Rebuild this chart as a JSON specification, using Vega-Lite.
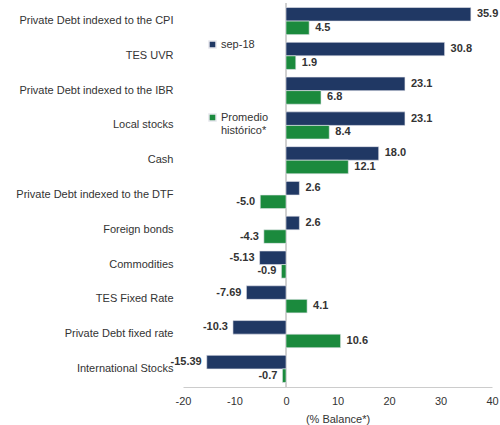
{
  "$schema": "https://vega.github.io/schema/vega-lite/v6.json",
  "autosize": "none",
  "width": 309,
  "height": 384,
  "padding": {"left": 183, "top": 3, "right": 8, "bottom": 38},
  "background": "white",
  "config": {"view": {"stroke": null}, "font": "Liberation Sans"},
  "data": {"values": [
    {"cat": "Private Debt indexed to the CPI", "series": "sep-18", "value": 35.9, "label": "35.9"},
    {"cat": "Private Debt indexed to the CPI", "series": "Promedio histórico*", "value": 4.5, "label": "4.5"},
    {"cat": "TES UVR", "series": "sep-18", "value": 30.8, "label": "30.8"},
    {"cat": "TES UVR", "series": "Promedio histórico*", "value": 1.9, "label": "1.9"},
    {"cat": "Private Debt indexed to the IBR", "series": "sep-18", "value": 23.1, "label": "23.1"},
    {"cat": "Private Debt indexed to the IBR", "series": "Promedio histórico*", "value": 6.8, "label": "6.8"},
    {"cat": "Local stocks", "series": "sep-18", "value": 23.1, "label": "23.1"},
    {"cat": "Local stocks", "series": "Promedio histórico*", "value": 8.4, "label": "8.4"},
    {"cat": "Cash", "series": "sep-18", "value": 18.0, "label": "18.0"},
    {"cat": "Cash", "series": "Promedio histórico*", "value": 12.1, "label": "12.1"},
    {"cat": "Private Debt indexed to the DTF", "series": "sep-18", "value": 2.6, "label": "2.6"},
    {"cat": "Private Debt indexed to the DTF", "series": "Promedio histórico*", "value": -5.0, "label": "-5.0"},
    {"cat": "Foreign bonds", "series": "sep-18", "value": 2.6, "label": "2.6"},
    {"cat": "Foreign bonds", "series": "Promedio histórico*", "value": -4.3, "label": "-4.3"},
    {"cat": "Commodities", "series": "sep-18", "value": -5.13, "label": "-5.13"},
    {"cat": "Commodities", "series": "Promedio histórico*", "value": -0.9, "label": "-0.9"},
    {"cat": "TES Fixed Rate", "series": "sep-18", "value": -7.69, "label": "-7.69"},
    {"cat": "TES Fixed Rate", "series": "Promedio histórico*", "value": 4.1, "label": "4.1"},
    {"cat": "Private Debt fixed rate", "series": "sep-18", "value": -10.3, "label": "-10.3"},
    {"cat": "Private Debt fixed rate", "series": "Promedio histórico*", "value": 10.6, "label": "10.6"},
    {"cat": "International Stocks", "series": "sep-18", "value": -15.39, "label": "-15.39"},
    {"cat": "International Stocks", "series": "Promedio histórico*", "value": -0.7, "label": "-0.7"}
  ]},
  "encoding": {
    "y": {"field": "cat", "type": "nominal", "sort": null,
      "scale": {"paddingInner": 0.22, "paddingOuter": 0.13},
      "axis": {"title": null, "domain": false, "ticks": false, "labelFontSize": 11, "labelColor": "#333333", "labelPadding": 10, "labelLimit": 200}},
    "yOffset": {"field": "series", "type": "nominal", "sort": ["sep-18", "Promedio histórico*"]}
  },
  "layer": [
    {
      "mark": {"type": "rule", "color": "#d0d0d0", "strokeWidth": 1},
      "encoding": {"x": {"datum": 0, "type": "quantitative"}, "y": null, "yOffset": null}
    },
    {
      "mark": {"type": "bar", "stroke": "#e8e8ee", "strokeWidth": 0.6},
      "encoding": {
        "x": {"field": "value", "type": "quantitative",
          "scale": {"domain": [-20, 40]},
          "axis": {"values": [-20, -10, 0, 10, 20, 30, 40], "labelExpr": "datum.value + ''", "labelFlush": false, "grid": false, "ticks": false, "domainColor": "#cccccc", "labelColor": "#333333", "labelFontSize": 11, "labelPadding": 8, "title": "(% Balance*)", "titleFontWeight": "normal", "titleFontSize": 11, "titleColor": "#333333", "titlePadding": 7}},
        "color": {"field": "series", "type": "nominal",
          "scale": {"domain": ["sep-18", "Promedio histórico*"], "range": ["#203864", "#1b8a3d"]},
          "legend": {"title": null, "orient": "none", "legendX": 24, "legendY": 36, "symbolType": "square", "symbolSize": 50, "labelFontSize": 11, "labelColor": "#333333", "rowPadding": 58, "labelOffset": 3,
            "labelExpr": "datum.label == 'Promedio histórico*' ? ['Promedio', 'histórico*'] : datum.label"}}
      }
    },
    {
      "transform": [{"filter": "datum.value >= 0"}],
      "mark": {"type": "text", "align": "left", "dx": 6, "fontWeight": "bold", "fontSize": 11, "color": "#333333"},
      "encoding": {"x": {"field": "value", "type": "quantitative"}, "text": {"field": "label"}}
    },
    {
      "transform": [{"filter": "datum.value < 0"}],
      "mark": {"type": "text", "align": "right", "dx": -5, "fontWeight": "bold", "fontSize": 11, "color": "#333333"},
      "encoding": {"x": {"field": "value", "type": "quantitative"}, "text": {"field": "label"}}
    }
  ]
}
